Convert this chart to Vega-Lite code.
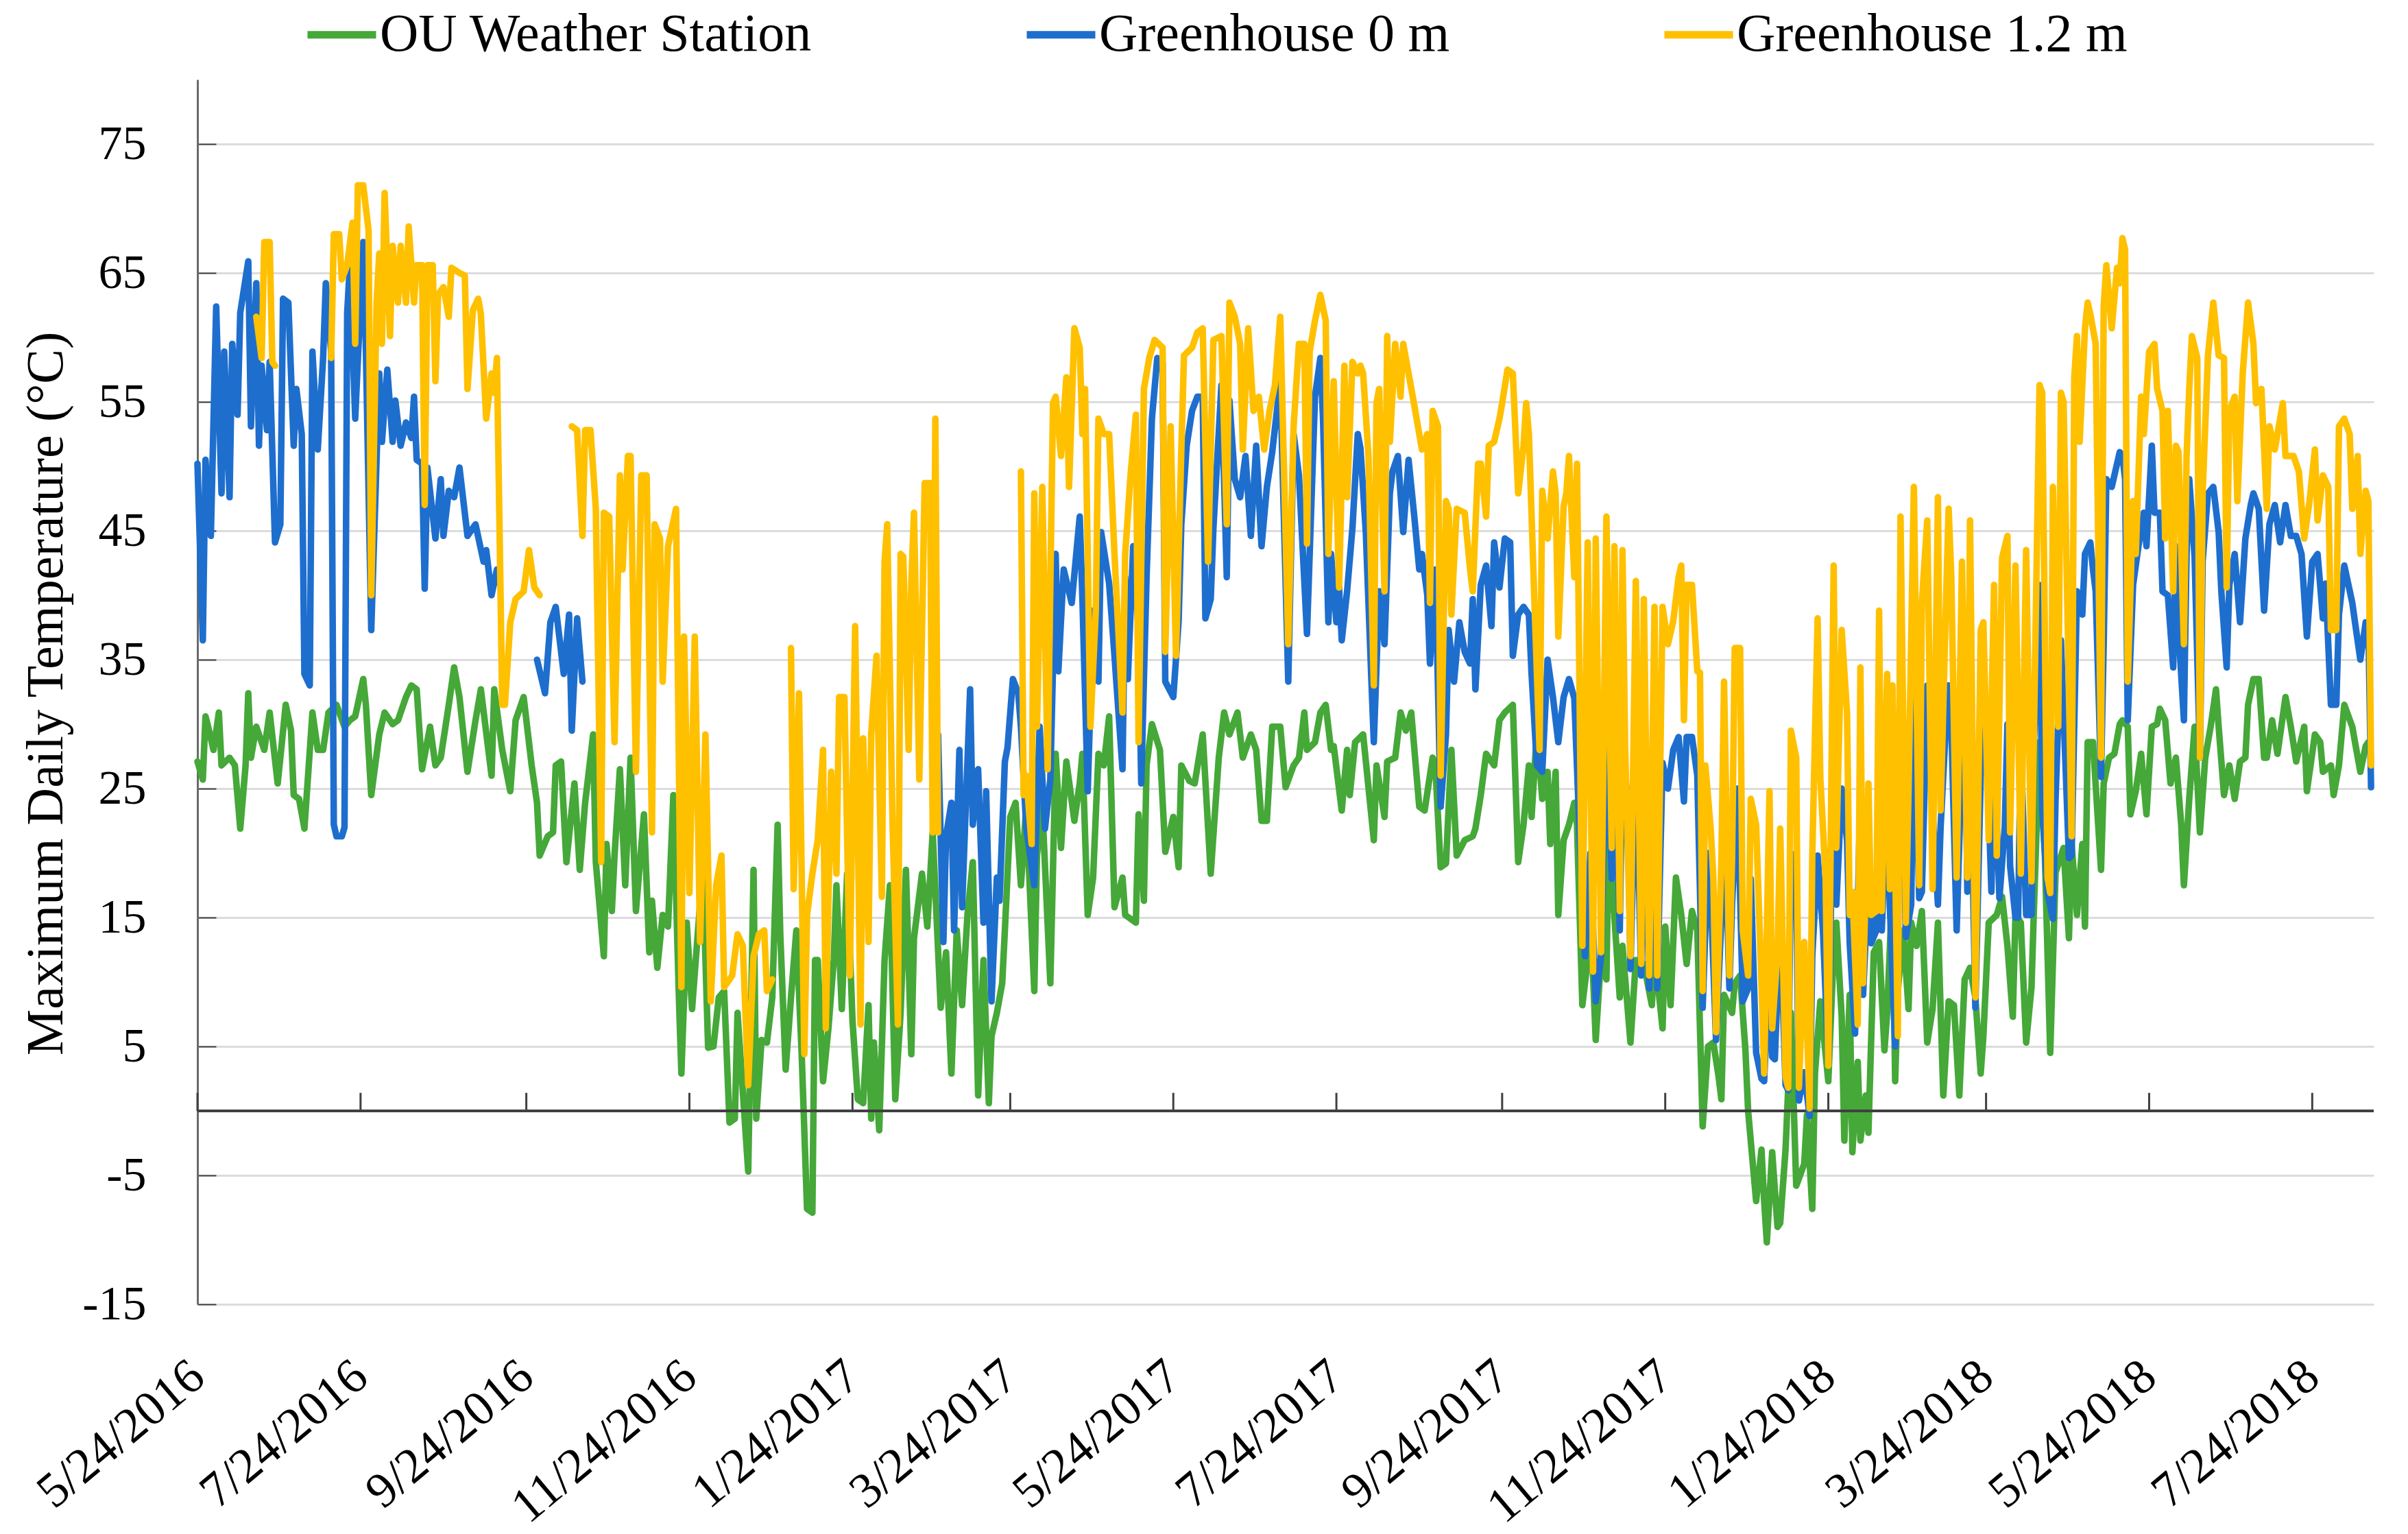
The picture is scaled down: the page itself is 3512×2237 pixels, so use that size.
{
  "$schema": "https://vega.github.io/schema/vega-lite/v6.json",
  "autosize": {"type": "none"},
  "padding": {"left": 288, "top": 116, "right": 50, "bottom": 335},
  "width": 3174,
  "height": 1786,
  "background": "white",
  "config": {
    "view": {"stroke": null},
    "font": "Liberation Serif",
    "axis": {"labelFont": "Liberation Serif", "titleFont": "Liberation Serif", "labelColor": "#000000", "titleColor": "#000000"},
    "legend": {"labelFont": "Liberation Serif", "labelColor": "#000000"}
  },
  "datasets": {
    "ou": [
      {"d":"2016-05-24","v":27.1},{"d":"2016-05-26","v":25.7},{"d":"2016-05-27","v":30.6},{"d":"2016-05-28","v":29.8},{"d":"2016-05-30","v":28.0},
      {"d":"2016-06-01","v":30.9},{"d":"2016-06-02","v":26.8},{"d":"2016-06-05","v":27.4},{"d":"2016-06-07","v":26.8},{"d":"2016-06-09","v":21.9},
      {"d":"2016-06-11","v":26.8},{"d":"2016-06-12","v":32.4},{"d":"2016-06-13","v":27.4},{"d":"2016-06-15","v":29.8},{"d":"2016-06-18","v":28.0},
      {"d":"2016-06-20","v":30.9},{"d":"2016-06-23","v":25.4},{"d":"2016-06-24","v":27.4},{"d":"2016-06-26","v":31.5},{"d":"2016-06-28","v":29.5},
      {"d":"2016-06-29","v":24.5},{"d":"2016-07-01","v":24.2},{"d":"2016-07-03","v":21.9},{"d":"2016-07-06","v":30.9},{"d":"2016-07-08","v":28.0},
      {"d":"2016-07-10","v":28.0},{"d":"2016-07-12","v":30.9},{"d":"2016-07-15","v":31.5},{"d":"2016-07-18","v":29.8},{"d":"2016-07-20","v":30.3},
      {"d":"2016-07-22","v":30.6},{"d":"2016-07-25","v":33.5},{"d":"2016-07-26","v":31.5},{"d":"2016-07-28","v":24.5},{"d":"2016-07-31","v":29.2},
      {"d":"2016-08-02","v":30.9},{"d":"2016-08-05","v":30.0},{"d":"2016-08-07","v":30.3},{"d":"2016-08-10","v":32.1},{"d":"2016-08-12","v":33.0},
      {"d":"2016-08-14","v":32.7},{"d":"2016-08-16","v":26.5},{"d":"2016-08-19","v":29.8},{"d":"2016-08-21","v":26.8},{"d":"2016-08-23","v":27.4},
      {"d":"2016-08-26","v":31.5},{"d":"2016-08-28","v":34.4},{"d":"2016-08-30","v":32.1},{"d":"2016-09-02","v":26.3},{"d":"2016-09-05","v":30.3},
      {"d":"2016-09-07","v":32.7},{"d":"2016-09-11","v":26.0},{"d":"2016-09-12","v":32.7},{"d":"2016-09-15","v":28.0},{"d":"2016-09-18","v":24.8},
      {"d":"2016-09-20","v":30.3},{"d":"2016-09-23","v":32.1},{"d":"2016-09-26","v":26.8},{"d":"2016-09-28","v":23.9},{"d":"2016-09-29","v":19.8},
      {"d":"2016-10-02","v":21.3},{"d":"2016-10-04","v":21.6},{"d":"2016-10-05","v":26.8},{"d":"2016-10-07","v":27.1},{"d":"2016-10-09","v":19.3},
      {"d":"2016-10-12","v":25.4},{"d":"2016-10-14","v":18.7},{"d":"2016-10-16","v":23.9},{"d":"2016-10-19","v":29.2},{"d":"2016-10-20","v":19.3},
      {"d":"2016-10-23","v":12.0},{"d":"2016-10-24","v":20.7},{"d":"2016-10-26","v":15.5},{"d":"2016-10-27","v":19.8},{"d":"2016-10-29","v":26.5},
      {"d":"2016-10-31","v":17.5},{"d":"2016-11-02","v":27.4},{"d":"2016-11-04","v":15.5},{"d":"2016-11-07","v":23.0},{"d":"2016-11-09","v":12.3},
      {"d":"2016-11-10","v":16.3},{"d":"2016-11-12","v":11.1},{"d":"2016-11-14","v":15.2},{"d":"2016-11-16","v":14.3},{"d":"2016-11-18","v":24.5},
      {"d":"2016-11-20","v":9.3},{"d":"2016-11-21","v":2.9},{"d":"2016-11-23","v":14.6},{"d":"2016-11-25","v":7.9},{"d":"2016-11-27","v":13.4},
      {"d":"2016-11-29","v":18.7},{"d":"2016-12-01","v":4.9},{"d":"2016-12-03","v":5.0},{"d":"2016-12-05","v":8.8},{"d":"2016-12-07","v":9.3},
      {"d":"2016-12-09","v":-0.9},{"d":"2016-12-11","v":-0.6},{"d":"2016-12-12","v":7.6},{"d":"2016-12-16","v":-4.7},{"d":"2016-12-18","v":18.7},
      {"d":"2016-12-19","v":-0.6},{"d":"2016-12-21","v":5.5},{"d":"2016-12-23","v":5.3},{"d":"2016-12-25","v":8.8},{"d":"2016-12-27","v":22.2},
      {"d":"2016-12-28","v":13.7},{"d":"2016-12-30","v":3.2},{"d":"2017-01-01","v":8.8},{"d":"2017-01-03","v":14.0},{"d":"2017-01-05","v":4.4},
      {"d":"2017-01-07","v":-7.6},{"d":"2017-01-09","v":-7.9},{"d":"2017-01-10","v":11.7},{"d":"2017-01-11","v":11.7},{"d":"2017-01-13","v":2.3},
      {"d":"2017-01-15","v":6.4},{"d":"2017-01-17","v":11.7},{"d":"2017-01-18","v":17.5},{"d":"2017-01-20","v":7.9},{"d":"2017-01-22","v":18.4},
      {"d":"2017-01-24","v":7.0},{"d":"2017-01-26","v":0.9},{"d":"2017-01-28","v":0.6},{"d":"2017-01-30","v":8.2},{"d":"2017-01-31","v":-0.6},
      {"d":"2017-02-01","v":5.3},{"d":"2017-02-03","v":-1.5},{"d":"2017-02-05","v":11.7},{"d":"2017-02-07","v":17.5},{"d":"2017-02-09","v":0.9},
      {"d":"2017-02-11","v":7.6},{"d":"2017-02-13","v":18.7},{"d":"2017-02-15","v":4.4},{"d":"2017-02-16","v":13.4},{"d":"2017-02-19","v":18.4},
      {"d":"2017-02-21","v":14.3},{"d":"2017-02-23","v":21.6},{"d":"2017-02-26","v":8.0},{"d":"2017-02-28","v":12.3},{"d":"2017-03-02","v":2.9},
      {"d":"2017-03-04","v":14.0},{"d":"2017-03-06","v":8.2},{"d":"2017-03-08","v":15.2},{"d":"2017-03-10","v":19.3},{"d":"2017-03-12","v":1.2},
      {"d":"2017-03-14","v":11.7},{"d":"2017-03-16","v":0.6},{"d":"2017-03-17","v":5.8},{"d":"2017-03-19","v":7.6},{"d":"2017-03-21","v":9.9},
      {"d":"2017-03-22","v":14.0},{"d":"2017-03-24","v":22.8},{"d":"2017-03-26","v":23.9},{"d":"2017-03-28","v":17.5},{"d":"2017-03-30","v":23.6},
      {"d":"2017-04-02","v":9.3},{"d":"2017-04-03","v":19.8},{"d":"2017-04-05","v":23.6},{"d":"2017-04-08","v":9.9},{"d":"2017-04-10","v":27.7},
      {"d":"2017-04-12","v":20.4},{"d":"2017-04-14","v":27.1},{"d":"2017-04-17","v":22.5},{"d":"2017-04-19","v":25.4},{"d":"2017-04-20","v":27.7},
      {"d":"2017-04-22","v":15.2},{"d":"2017-04-24","v":18.1},{"d":"2017-04-26","v":27.7},{"d":"2017-04-28","v":26.8},{"d":"2017-04-30","v":30.6},
      {"d":"2017-05-02","v":15.8},{"d":"2017-05-05","v":18.1},{"d":"2017-05-06","v":15.2},{"d":"2017-05-10","v":14.6},{"d":"2017-05-11","v":23.0},
      {"d":"2017-05-13","v":16.3},{"d":"2017-05-14","v":26.8},{"d":"2017-05-16","v":30.0},{"d":"2017-05-19","v":28.0},{"d":"2017-05-21","v":20.1},
      {"d":"2017-05-24","v":22.8},{"d":"2017-05-26","v":18.9},{"d":"2017-05-27","v":26.8},{"d":"2017-05-30","v":25.6},{"d":"2017-06-01","v":25.4},
      {"d":"2017-06-04","v":29.2},{"d":"2017-06-07","v":18.4},{"d":"2017-06-10","v":27.4},{"d":"2017-06-12","v":30.9},{"d":"2017-06-14","v":29.2},
      {"d":"2017-06-17","v":30.9},{"d":"2017-06-19","v":27.4},{"d":"2017-06-22","v":29.2},{"d":"2017-06-24","v":28.0},{"d":"2017-06-26","v":22.5},
      {"d":"2017-06-28","v":22.5},{"d":"2017-06-30","v":29.8},{"d":"2017-07-03","v":29.8},{"d":"2017-07-05","v":25.1},{"d":"2017-07-08","v":26.8},
      {"d":"2017-07-10","v":27.4},{"d":"2017-07-12","v":30.9},{"d":"2017-07-13","v":28.0},{"d":"2017-07-16","v":28.6},{"d":"2017-07-18","v":30.9},
      {"d":"2017-07-20","v":31.5},{"d":"2017-07-22","v":28.0},{"d":"2017-07-23","v":28.3},{"d":"2017-07-26","v":23.3},{"d":"2017-07-28","v":28.0},
      {"d":"2017-07-29","v":24.5},{"d":"2017-07-31","v":28.6},{"d":"2017-08-03","v":29.2},{"d":"2017-08-07","v":21.0},{"d":"2017-08-08","v":26.8},
      {"d":"2017-08-11","v":22.8},{"d":"2017-08-12","v":27.1},{"d":"2017-08-15","v":27.4},{"d":"2017-08-17","v":30.9},{"d":"2017-08-19","v":29.5},
      {"d":"2017-08-21","v":30.9},{"d":"2017-08-24","v":23.6},{"d":"2017-08-26","v":23.3},{"d":"2017-08-29","v":27.4},{"d":"2017-08-30","v":26.8},
      {"d":"2017-09-01","v":18.9},{"d":"2017-09-03","v":19.2},{"d":"2017-09-05","v":28.0},{"d":"2017-09-07","v":19.8},{"d":"2017-09-10","v":21.0},
      {"d":"2017-09-13","v":21.3},{"d":"2017-09-14","v":21.9},{"d":"2017-09-16","v":24.5},{"d":"2017-09-18","v":27.7},{"d":"2017-09-21","v":26.8},
      {"d":"2017-09-23","v":30.3},{"d":"2017-09-25","v":30.9},{"d":"2017-09-28","v":31.5},{"d":"2017-09-30","v":19.3},{"d":"2017-10-02","v":22.2},
      {"d":"2017-10-04","v":26.8},{"d":"2017-10-05","v":22.8},{"d":"2017-10-07","v":29.5},{"d":"2017-10-09","v":24.2},{"d":"2017-10-11","v":26.3},
      {"d":"2017-10-12","v":20.7},{"d":"2017-10-14","v":26.3},{"d":"2017-10-15","v":15.2},{"d":"2017-10-17","v":21.0},{"d":"2017-10-19","v":22.2},
      {"d":"2017-10-21","v":23.9},{"d":"2017-10-22","v":22.2},{"d":"2017-10-24","v":8.2},{"d":"2017-10-26","v":11.7},{"d":"2017-10-27","v":15.5},
      {"d":"2017-10-29","v":5.5},{"d":"2017-10-31","v":12.0},{"d":"2017-11-02","v":10.2},{"d":"2017-11-03","v":23.6},{"d":"2017-11-04","v":18.1},
      {"d":"2017-11-07","v":8.8},{"d":"2017-11-08","v":12.8},{"d":"2017-11-11","v":5.3},{"d":"2017-11-13","v":11.7},{"d":"2017-11-15","v":10.5},
      {"d":"2017-11-16","v":11.4},{"d":"2017-11-19","v":8.2},{"d":"2017-11-20","v":12.3},{"d":"2017-11-23","v":6.4},{"d":"2017-11-24","v":14.3},
      {"d":"2017-11-26","v":8.2},{"d":"2017-11-28","v":18.1},{"d":"2017-11-30","v":15.2},{"d":"2017-12-02","v":11.4},{"d":"2017-12-04","v":15.5},
      {"d":"2017-12-06","v":14.0},{"d":"2017-12-08","v":-1.2},{"d":"2017-12-10","v":5.0},{"d":"2017-12-12","v":5.3},{"d":"2017-12-14","v":2.6},
      {"d":"2017-12-15","v":0.9},{"d":"2017-12-16","v":9.0},{"d":"2017-12-19","v":7.6},{"d":"2017-12-20","v":9.9},{"d":"2017-12-22","v":10.5},
      {"d":"2017-12-24","v":4.7},{"d":"2017-12-25","v":0.0},{"d":"2017-12-28","v":-7.0},{"d":"2017-12-30","v":-3.0},{"d":"2017-12-31","v":-7.0},
      {"d":"2018-01-01","v":-10.2},{"d":"2018-01-03","v":-3.2},{"d":"2018-01-05","v":-9.0},{"d":"2018-01-06","v":-8.7},{"d":"2018-01-08","v":-3.0},
      {"d":"2018-01-09","v":1.8},{"d":"2018-01-10","v":7.6},{"d":"2018-01-12","v":-5.8},{"d":"2018-01-15","v":-4.1},{"d":"2018-01-16","v":-0.3},
      {"d":"2018-01-18","v":-7.6},{"d":"2018-01-19","v":2.9},{"d":"2018-01-21","v":8.5},{"d":"2018-01-24","v":2.3},{"d":"2018-01-26","v":12.3},
      {"d":"2018-01-27","v":14.6},{"d":"2018-01-29","v":7.3},{"d":"2018-01-30","v":-2.3},{"d":"2018-02-01","v":9.0},{"d":"2018-02-02","v":-3.2},
      {"d":"2018-02-04","v":3.8},{"d":"2018-02-05","v":-2.3},{"d":"2018-02-07","v":1.2},{"d":"2018-02-08","v":-1.7},{"d":"2018-02-10","v":12.3},
      {"d":"2018-02-12","v":13.1},{"d":"2018-02-14","v":4.7},{"d":"2018-02-15","v":7.6},{"d":"2018-02-17","v":17.5},{"d":"2018-02-18","v":2.3},
      {"d":"2018-02-19","v":9.3},{"d":"2018-02-21","v":14.0},{"d":"2018-02-23","v":7.9},{"d":"2018-02-24","v":14.6},{"d":"2018-02-26","v":12.8},
      {"d":"2018-02-28","v":15.5},{"d":"2018-03-02","v":5.3},{"d":"2018-03-04","v":7.9},{"d":"2018-03-06","v":14.6},{"d":"2018-03-08","v":1.2},
      {"d":"2018-03-10","v":8.5},{"d":"2018-03-12","v":8.2},{"d":"2018-03-14","v":1.2},{"d":"2018-03-16","v":10.2},{"d":"2018-03-18","v":11.1},
      {"d":"2018-03-20","v":8.8},{"d":"2018-03-22","v":2.9},{"d":"2018-03-23","v":5.8},{"d":"2018-03-25","v":14.6},{"d":"2018-03-28","v":15.2},
      {"d":"2018-03-30","v":16.6},{"d":"2018-04-01","v":12.8},{"d":"2018-04-03","v":7.3},{"d":"2018-04-04","v":15.2},{"d":"2018-04-06","v":14.6},
      {"d":"2018-04-08","v":5.3},{"d":"2018-04-10","v":9.6},{"d":"2018-04-11","v":16.3},{"d":"2018-04-13","v":28.6},{"d":"2018-04-15","v":19.8},
      {"d":"2018-04-17","v":4.5},{"d":"2018-04-19","v":18.5},{"d":"2018-04-22","v":20.4},{"d":"2018-04-24","v":13.4},{"d":"2018-04-25","v":20.7},
      {"d":"2018-04-27","v":15.2},{"d":"2018-04-29","v":20.7},{"d":"2018-04-30","v":14.3},{"d":"2018-05-01","v":28.6},{"d":"2018-05-03","v":28.6},
      {"d":"2018-05-06","v":18.7},{"d":"2018-05-07","v":25.4},{"d":"2018-05-09","v":27.4},{"d":"2018-05-11","v":27.7},{"d":"2018-05-13","v":30.0},
      {"d":"2018-05-14","v":30.3},{"d":"2018-05-16","v":29.8},{"d":"2018-05-17","v":23.0},{"d":"2018-05-19","v":24.8},{"d":"2018-05-21","v":27.7},
      {"d":"2018-05-23","v":23.0},{"d":"2018-05-25","v":29.8},{"d":"2018-05-27","v":30.0},{"d":"2018-05-28","v":31.2},{"d":"2018-05-30","v":30.3},
      {"d":"2018-06-01","v":25.4},{"d":"2018-06-03","v":27.4},{"d":"2018-06-05","v":22.2},{"d":"2018-06-06","v":17.5},{"d":"2018-06-08","v":24.2},
      {"d":"2018-06-10","v":29.8},{"d":"2018-06-12","v":21.6},{"d":"2018-06-14","v":27.4},{"d":"2018-06-16","v":29.8},{"d":"2018-06-18","v":32.7},
      {"d":"2018-06-19","v":29.8},{"d":"2018-06-21","v":24.5},{"d":"2018-06-23","v":26.8},{"d":"2018-06-25","v":24.2},{"d":"2018-06-27","v":27.1},
      {"d":"2018-06-29","v":27.4},{"d":"2018-06-30","v":31.5},{"d":"2018-07-02","v":33.5},{"d":"2018-07-04","v":33.5},{"d":"2018-07-06","v":27.4},
      {"d":"2018-07-07","v":27.4},{"d":"2018-07-09","v":30.3},{"d":"2018-07-11","v":27.7},{"d":"2018-07-14","v":32.1},{"d":"2018-07-16","v":29.8},
      {"d":"2018-07-18","v":27.1},{"d":"2018-07-21","v":29.8},{"d":"2018-07-22","v":24.8},{"d":"2018-07-25","v":29.2},{"d":"2018-07-27","v":28.6},
      {"d":"2018-07-28","v":26.3},{"d":"2018-07-31","v":26.8},{"d":"2018-08-01","v":24.5},{"d":"2018-08-03","v":26.8},{"d":"2018-08-05","v":31.5},
      {"d":"2018-08-08","v":29.8},{"d":"2018-08-09","v":28.6},{"d":"2018-08-11","v":26.3},{"d":"2018-08-13","v":28.3},{"d":"2018-08-14","v":28.6}
    ],
    "g0": [
      {"d":"2016-05-24","v":50.2},{"d":"2016-05-26","v":36.5},{"d":"2016-05-27","v":50.5},{"d":"2016-05-29","v":44.6},{"d":"2016-05-31","v":62.4},
      {"d":"2016-06-02","v":47.9},{"d":"2016-06-03","v":58.9},{"d":"2016-06-05","v":47.6},{"d":"2016-06-06","v":59.5},{"d":"2016-06-08","v":54.0},
      {"d":"2016-06-09","v":61.9},{"d":"2016-06-12","v":65.9},{"d":"2016-06-13","v":53.1},{"d":"2016-06-15","v":64.2},{"d":"2016-06-16","v":51.6},
      {"d":"2016-06-17","v":57.8},{"d":"2016-06-19","v":52.8},{"d":"2016-06-20","v":58.1},{"d":"2016-06-22","v":44.1},{"d":"2016-06-24","v":45.5},
      {"d":"2016-06-25","v":63.0},{"d":"2016-06-27","v":62.7},{"d":"2016-06-29","v":51.6},{"d":"2016-06-30","v":56.0},{"d":"2016-07-02","v":52.5},
      {"d":"2016-07-03","v":33.9},{"d":"2016-07-05","v":33.0},{"d":"2016-07-06","v":58.9},{"d":"2016-07-08","v":51.3},{"d":"2016-07-10","v":58.4},
      {"d":"2016-07-11","v":64.2},{"d":"2016-07-13","v":58.9},{"d":"2016-07-14","v":22.2},{"d":"2016-07-15","v":21.3},{"d":"2016-07-16","v":21.3},
      {"d":"2016-07-17","v":21.3},{"d":"2016-07-18","v":22.0},{"d":"2016-07-19","v":61.9},{"d":"2016-07-20","v":65.6},{"d":"2016-07-22","v":53.7},
      {"d":"2016-07-25","v":67.4},{"d":"2016-07-26","v":58.9},{"d":"2016-07-28","v":37.3},{"d":"2016-07-31","v":57.2},{"d":"2016-08-01","v":51.9},
      {"d":"2016-08-03","v":57.5},{"d":"2016-08-05","v":51.9},{"d":"2016-08-06","v":55.1},{"d":"2016-08-08","v":51.6},{"d":"2016-08-10","v":53.4},
      {"d":"2016-08-12","v":52.2},{"d":"2016-08-13","v":55.4},{"d":"2016-08-14","v":50.5},{"d":"2016-08-16","v":50.2},{"d":"2016-08-17","v":40.5},
      {"d":"2016-08-18","v":49.9},{"d":"2016-08-21","v":44.4},{"d":"2016-08-23","v":49.0},{"d":"2016-08-24","v":44.6},{"d":"2016-08-26","v":48.1},
      {"d":"2016-08-28","v":47.6},{"d":"2016-08-30","v":49.9},{"d":"2016-09-02","v":44.6},{"d":"2016-09-05","v":45.5},{"d":"2016-09-08","v":42.6},
      {"d":"2016-09-09","v":43.5},{"d":"2016-09-11","v":40.0},{"d":"2016-09-13","v":42.0},{"d":"2016-09-14","v":40.9},{"d":"2016-09-21","v":null},
      {"d":"2016-09-28","v":35.0},{"d":"2016-10-01","v":32.4},{"d":"2016-10-03","v":37.9},{"d":"2016-10-05","v":39.1},{"d":"2016-10-08","v":33.9},
      {"d":"2016-10-10","v":38.5},{"d":"2016-10-11","v":29.5},{"d":"2016-10-13","v":38.2},{"d":"2016-10-15","v":33.3},{"d":"2016-12-10","v":null},
      {"d":"2017-02-25","v":29.2},{"d":"2017-02-27","v":13.1},{"d":"2017-02-28","v":21.3},{"d":"2017-03-02","v":23.9},{"d":"2017-03-03","v":14.0},
      {"d":"2017-03-05","v":28.0},{"d":"2017-03-06","v":15.8},{"d":"2017-03-09","v":32.7},{"d":"2017-03-10","v":22.2},{"d":"2017-03-12","v":26.5},
      {"d":"2017-03-14","v":14.6},{"d":"2017-03-15","v":24.8},{"d":"2017-03-17","v":8.5},{"d":"2017-03-19","v":18.1},{"d":"2017-03-20","v":16.3},
      {"d":"2017-03-22","v":27.1},{"d":"2017-03-23","v":28.2},{"d":"2017-03-25","v":33.5},{"d":"2017-03-27","v":32.4},{"d":"2017-03-28","v":29.8},
      {"d":"2017-03-30","v":22.0},{"d":"2017-04-02","v":17.5},{"d":"2017-04-04","v":29.8},{"d":"2017-04-06","v":21.9},{"d":"2017-04-08","v":25.7},
      {"d":"2017-04-10","v":43.2},{"d":"2017-04-11","v":34.1},{"d":"2017-04-13","v":42.0},{"d":"2017-04-16","v":39.4},{"d":"2017-04-19","v":46.1},
      {"d":"2017-04-20","v":39.7},{"d":"2017-04-22","v":24.8},{"d":"2017-04-24","v":38.8},{"d":"2017-04-26","v":33.3},{"d":"2017-04-27","v":44.9},
      {"d":"2017-04-30","v":40.9},{"d":"2017-05-02","v":35.3},{"d":"2017-05-05","v":26.5},{"d":"2017-05-06","v":41.4},{"d":"2017-05-07","v":33.5},
      {"d":"2017-05-09","v":43.8},{"d":"2017-05-11","v":37.3},{"d":"2017-05-12","v":25.4},{"d":"2017-05-14","v":41.4},{"d":"2017-05-16","v":53.7},
      {"d":"2017-05-18","v":58.4},{"d":"2017-05-20","v":58.0},{"d":"2017-05-21","v":33.3},{"d":"2017-05-24","v":32.1},{"d":"2017-05-26","v":38.0},
      {"d":"2017-05-27","v":45.5},{"d":"2017-05-29","v":51.6},{"d":"2017-05-31","v":54.3},{"d":"2017-06-02","v":55.4},{"d":"2017-06-04","v":55.4},
      {"d":"2017-06-05","v":38.2},{"d":"2017-06-07","v":39.7},{"d":"2017-06-08","v":45.2},{"d":"2017-06-11","v":56.3},{"d":"2017-06-13","v":41.4},
      {"d":"2017-06-14","v":55.1},{"d":"2017-06-16","v":49.0},{"d":"2017-06-18","v":47.6},{"d":"2017-06-20","v":50.8},{"d":"2017-06-22","v":44.6},
      {"d":"2017-06-24","v":51.6},{"d":"2017-06-26","v":43.8},{"d":"2017-06-28","v":48.4},{"d":"2017-06-30","v":51.1},{"d":"2017-07-03","v":56.6},
      {"d":"2017-07-06","v":33.3},{"d":"2017-07-08","v":52.5},{"d":"2017-07-10","v":49.3},{"d":"2017-07-13","v":37.0},{"d":"2017-07-16","v":55.4},
      {"d":"2017-07-18","v":58.4},{"d":"2017-07-19","v":53.7},{"d":"2017-07-21","v":37.9},{"d":"2017-07-22","v":43.2},{"d":"2017-07-24","v":37.9},
      {"d":"2017-07-25","v":40.6},{"d":"2017-07-26","v":36.5},{"d":"2017-07-28","v":40.3},{"d":"2017-07-30","v":45.2},{"d":"2017-08-01","v":52.5},
      {"d":"2017-08-02","v":51.4},{"d":"2017-08-04","v":44.9},{"d":"2017-08-06","v":33.9},{"d":"2017-08-07","v":28.6},{"d":"2017-08-09","v":40.3},
      {"d":"2017-08-11","v":36.2},{"d":"2017-08-13","v":47.9},{"d":"2017-08-14","v":49.6},{"d":"2017-08-16","v":50.8},{"d":"2017-08-18","v":44.9},
      {"d":"2017-08-20","v":50.5},{"d":"2017-08-22","v":46.4},{"d":"2017-08-24","v":42.0},{"d":"2017-08-25","v":43.2},{"d":"2017-08-27","v":40.0},
      {"d":"2017-08-28","v":34.7},{"d":"2017-08-30","v":42.0},{"d":"2017-09-01","v":23.6},{"d":"2017-09-03","v":29.2},{"d":"2017-09-04","v":37.3},
      {"d":"2017-09-06","v":33.3},{"d":"2017-09-08","v":37.9},{"d":"2017-09-10","v":35.6},{"d":"2017-09-12","v":34.7},{"d":"2017-09-13","v":39.7},
      {"d":"2017-09-14","v":32.7},{"d":"2017-09-16","v":40.8},{"d":"2017-09-18","v":42.3},{"d":"2017-09-20","v":37.6},{"d":"2017-09-21","v":44.1},
      {"d":"2017-09-23","v":40.6},{"d":"2017-09-25","v":44.4},{"d":"2017-09-27","v":44.1},{"d":"2017-09-28","v":35.3},{"d":"2017-09-30","v":38.5},
      {"d":"2017-10-02","v":39.1},{"d":"2017-10-04","v":38.5},{"d":"2017-10-05","v":33.9},{"d":"2017-10-07","v":26.8},{"d":"2017-10-09","v":26.3},
      {"d":"2017-10-11","v":35.0},{"d":"2017-10-13","v":32.1},{"d":"2017-10-15","v":28.6},{"d":"2017-10-17","v":32.1},{"d":"2017-10-19","v":33.5},
      {"d":"2017-10-21","v":32.0},{"d":"2017-10-23","v":21.3},{"d":"2017-10-25","v":12.0},{"d":"2017-10-27","v":20.0},{"d":"2017-10-29","v":8.5},
      {"d":"2017-10-31","v":12.0},{"d":"2017-11-02","v":30.0},{"d":"2017-11-04","v":18.0},{"d":"2017-11-05","v":30.0},{"d":"2017-11-07","v":14.0},
      {"d":"2017-11-08","v":28.0},{"d":"2017-11-10","v":24.0},{"d":"2017-11-11","v":11.0},{"d":"2017-11-13","v":28.0},{"d":"2017-11-15","v":10.5},
      {"d":"2017-11-16","v":27.0},{"d":"2017-11-18","v":9.5},{"d":"2017-11-20","v":26.0},{"d":"2017-11-21","v":9.5},{"d":"2017-11-23","v":27.0},
      {"d":"2017-11-25","v":25.0},{"d":"2017-11-27","v":28.0},{"d":"2017-11-29","v":29.0},{"d":"2017-12-01","v":24.0},{"d":"2017-12-02","v":29.0},
      {"d":"2017-12-04","v":29.0},{"d":"2017-12-06","v":26.0},{"d":"2017-12-08","v":8.0},{"d":"2017-12-10","v":20.0},{"d":"2017-12-11","v":17.0},
      {"d":"2017-12-13","v":5.5},{"d":"2017-12-15","v":15.0},{"d":"2017-12-16","v":24.0},{"d":"2017-12-18","v":9.5},{"d":"2017-12-19","v":16.0},
      {"d":"2017-12-21","v":25.0},{"d":"2017-12-23","v":8.5},{"d":"2017-12-25","v":9.5},{"d":"2017-12-26","v":18.0},{"d":"2017-12-28","v":4.5},
      {"d":"2017-12-30","v":2.5},{"d":"2017-12-31","v":2.3},{"d":"2018-01-02","v":12.0},{"d":"2018-01-03","v":4.2},{"d":"2018-01-04","v":4.0},
      {"d":"2018-01-06","v":15.0},{"d":"2018-01-08","v":2.0},{"d":"2018-01-09","v":1.6},{"d":"2018-01-10","v":20.0},{"d":"2018-01-12","v":18.0},
      {"d":"2018-01-13","v":0.8},{"d":"2018-01-15","v":3.0},{"d":"2018-01-17","v":-0.4},{"d":"2018-01-18","v":12.0},{"d":"2018-01-20","v":19.8},
      {"d":"2018-01-22","v":14.0},{"d":"2018-01-24","v":3.8},{"d":"2018-01-26","v":28.0},{"d":"2018-01-27","v":16.0},{"d":"2018-01-29","v":25.0},
      {"d":"2018-01-31","v":21.0},{"d":"2018-02-01","v":13.0},{"d":"2018-02-03","v":6.0},{"d":"2018-02-05","v":25.0},{"d":"2018-02-06","v":9.0},
      {"d":"2018-02-08","v":18.0},{"d":"2018-02-09","v":13.0},{"d":"2018-02-11","v":14.0},{"d":"2018-02-12","v":28.0},{"d":"2018-02-13","v":14.0},
      {"d":"2018-02-15","v":25.0},{"d":"2018-02-16","v":16.0},{"d":"2018-02-18","v":5.0},{"d":"2018-02-20","v":32.0},{"d":"2018-02-22","v":13.5},
      {"d":"2018-02-24","v":16.0},{"d":"2018-02-25","v":33.0},{"d":"2018-02-27","v":16.5},{"d":"2018-02-28","v":17.0},{"d":"2018-03-02","v":33.0},
      {"d":"2018-03-04","v":23.3},{"d":"2018-03-06","v":16.0},{"d":"2018-03-07","v":22.0},{"d":"2018-03-09","v":30.0},{"d":"2018-03-10","v":33.0},
      {"d":"2018-03-11","v":30.0},{"d":"2018-03-13","v":14.0},{"d":"2018-03-15","v":28.0},{"d":"2018-03-16","v":34.0},{"d":"2018-03-17","v":17.0},
      {"d":"2018-03-18","v":30.0},{"d":"2018-03-20","v":8.0},{"d":"2018-03-22","v":26.0},{"d":"2018-03-24","v":30.0},{"d":"2018-03-26","v":17.0},
      {"d":"2018-03-27","v":28.0},{"d":"2018-03-29","v":16.5},{"d":"2018-03-31","v":22.0},{"d":"2018-04-01","v":30.0},{"d":"2018-04-02","v":19.0},
      {"d":"2018-04-04","v":15.0},{"d":"2018-04-05","v":15.0},{"d":"2018-04-06","v":28.6},{"d":"2018-04-08","v":15.2},{"d":"2018-04-10","v":15.2},
      {"d":"2018-04-11","v":29.0},{"d":"2018-04-13","v":40.8},{"d":"2018-04-14","v":23.3},{"d":"2018-04-16","v":16.9},{"d":"2018-04-18","v":14.9},
      {"d":"2018-04-19","v":24.2},{"d":"2018-04-21","v":36.5},{"d":"2018-04-24","v":19.6},{"d":"2018-04-25","v":19.8},{"d":"2018-04-27","v":40.3},
      {"d":"2018-04-29","v":38.5},{"d":"2018-04-30","v":43.2},{"d":"2018-05-02","v":44.1},{"d":"2018-05-03","v":42.0},{"d":"2018-05-04","v":40.3},
      {"d":"2018-05-06","v":25.9},{"d":"2018-05-07","v":36.2},{"d":"2018-05-08","v":49.0},{"d":"2018-05-10","v":48.4},{"d":"2018-05-12","v":50.2},
      {"d":"2018-05-13","v":51.1},{"d":"2018-05-14","v":50.8},{"d":"2018-05-15","v":49.0},{"d":"2018-05-16","v":30.3},{"d":"2018-05-18","v":40.8},
      {"d":"2018-05-20","v":43.8},{"d":"2018-05-22","v":46.4},{"d":"2018-05-23","v":43.8},{"d":"2018-05-25","v":51.6},{"d":"2018-05-26","v":46.4},
      {"d":"2018-05-28","v":46.4},{"d":"2018-05-29","v":40.3},{"d":"2018-05-31","v":40.0},{"d":"2018-06-02","v":34.4},{"d":"2018-06-03","v":43.8},
      {"d":"2018-06-04","v":37.3},{"d":"2018-06-06","v":30.3},{"d":"2018-06-07","v":43.2},{"d":"2018-06-08","v":49.0},{"d":"2018-06-10","v":43.0},
      {"d":"2018-06-12","v":27.4},{"d":"2018-06-13","v":42.6},{"d":"2018-06-15","v":47.9},{"d":"2018-06-17","v":48.4},{"d":"2018-06-19","v":44.9},
      {"d":"2018-06-20","v":40.3},{"d":"2018-06-22","v":34.4},{"d":"2018-06-23","v":40.8},{"d":"2018-06-25","v":43.2},{"d":"2018-06-27","v":37.9},
      {"d":"2018-06-29","v":44.4},{"d":"2018-07-01","v":47.0},{"d":"2018-07-02","v":47.9},{"d":"2018-07-04","v":46.7},{"d":"2018-07-06","v":38.8},
      {"d":"2018-07-08","v":45.5},{"d":"2018-07-10","v":47.0},{"d":"2018-07-12","v":44.1},{"d":"2018-07-14","v":47.0},{"d":"2018-07-16","v":44.6},
      {"d":"2018-07-18","v":44.6},{"d":"2018-07-20","v":43.2},{"d":"2018-07-22","v":36.8},{"d":"2018-07-24","v":42.6},{"d":"2018-07-26","v":43.2},
      {"d":"2018-07-28","v":38.2},{"d":"2018-07-29","v":40.9},{"d":"2018-07-31","v":31.5},{"d":"2018-08-02","v":31.5},{"d":"2018-08-03","v":38.5},
      {"d":"2018-08-05","v":42.3},{"d":"2018-08-08","v":39.4},{"d":"2018-08-09","v":37.9},{"d":"2018-08-11","v":35.0},{"d":"2018-08-13","v":37.9},
      {"d":"2018-08-14","v":37.9},{"d":"2018-08-15","v":25.1}
    ],
    "g12": [
      {"d":"2016-06-15","v":61.6},{"d":"2016-06-17","v":58.4},{"d":"2016-06-18","v":67.4},{"d":"2016-06-20","v":67.4},{"d":"2016-06-21","v":58.1},
      {"d":"2016-06-22","v":57.8},{"d":"2016-07-03","v":null},{"d":"2016-07-13","v":58.4},{"d":"2016-07-14","v":68.0},{"d":"2016-07-16","v":68.0},
      {"d":"2016-07-17","v":64.5},{"d":"2016-07-19","v":65.6},{"d":"2016-07-21","v":68.9},{"d":"2016-07-22","v":59.5},{"d":"2016-07-23","v":71.8},
      {"d":"2016-07-25","v":71.8},{"d":"2016-07-27","v":68.3},{"d":"2016-07-28","v":40.0},{"d":"2016-07-30","v":62.7},{"d":"2016-07-31","v":66.5},
      {"d":"2016-08-01","v":59.5},{"d":"2016-08-02","v":71.2},{"d":"2016-08-04","v":60.1},{"d":"2016-08-05","v":67.1},{"d":"2016-08-07","v":62.7},
      {"d":"2016-08-08","v":67.1},{"d":"2016-08-10","v":62.7},{"d":"2016-08-11","v":68.6},{"d":"2016-08-13","v":62.7},{"d":"2016-08-14","v":65.6},
      {"d":"2016-08-16","v":65.6},{"d":"2016-08-17","v":47.0},{"d":"2016-08-18","v":65.6},{"d":"2016-08-20","v":65.6},{"d":"2016-08-21","v":56.6},
      {"d":"2016-08-22","v":63.3},{"d":"2016-08-24","v":63.9},{"d":"2016-08-26","v":61.6},{"d":"2016-08-27","v":65.4},{"d":"2016-08-30","v":65.0},
      {"d":"2016-09-01","v":64.8},{"d":"2016-09-02","v":56.0},{"d":"2016-09-04","v":62.1},{"d":"2016-09-06","v":63.0},{"d":"2016-09-07","v":61.8},
      {"d":"2016-09-09","v":53.7},{"d":"2016-09-11","v":57.2},{"d":"2016-09-12","v":55.7},{"d":"2016-09-13","v":58.4},{"d":"2016-09-15","v":31.5},
      {"d":"2016-09-16","v":31.5},{"d":"2016-09-18","v":37.9},{"d":"2016-09-20","v":39.7},{"d":"2016-09-23","v":40.3},{"d":"2016-09-25","v":43.5},
      {"d":"2016-09-27","v":40.6},{"d":"2016-09-29","v":40.0},{"d":"2016-10-05","v":null},{"d":"2016-10-11","v":53.1},{"d":"2016-10-13","v":52.8},
      {"d":"2016-10-15","v":44.6},{"d":"2016-10-16","v":52.8},{"d":"2016-10-18","v":52.8},{"d":"2016-10-20","v":46.7},{"d":"2016-10-22","v":19.3},
      {"d":"2016-10-23","v":46.4},{"d":"2016-10-25","v":46.1},{"d":"2016-10-27","v":28.6},{"d":"2016-10-29","v":49.3},{"d":"2016-10-30","v":42.0},
      {"d":"2016-11-01","v":50.8},{"d":"2016-11-02","v":50.8},{"d":"2016-11-04","v":26.3},{"d":"2016-11-06","v":49.3},{"d":"2016-11-08","v":49.3},
      {"d":"2016-11-10","v":21.6},{"d":"2016-11-11","v":45.5},{"d":"2016-11-13","v":44.4},{"d":"2016-11-14","v":33.3},{"d":"2016-11-16","v":43.8},
      {"d":"2016-11-19","v":46.7},{"d":"2016-11-21","v":9.6},{"d":"2016-11-22","v":36.8},{"d":"2016-11-24","v":16.9},{"d":"2016-11-26","v":36.8},
      {"d":"2016-11-28","v":13.1},{"d":"2016-11-30","v":29.2},{"d":"2016-12-02","v":8.5},{"d":"2016-12-04","v":17.5},{"d":"2016-12-06","v":19.8},
      {"d":"2016-12-07","v":9.6},{"d":"2016-12-10","v":10.5},{"d":"2016-12-12","v":13.7},{"d":"2016-12-14","v":12.8},{"d":"2016-12-16","v":2.0},
      {"d":"2016-12-18","v":12.0},{"d":"2016-12-20","v":13.7},{"d":"2016-12-22","v":14.0},{"d":"2016-12-23","v":9.3},{"d":"2016-12-25","v":10.2},
      {"d":"2016-12-28","v":null},{"d":"2017-01-01","v":35.9},{"d":"2017-01-02","v":17.2},{"d":"2017-01-04","v":32.4},{"d":"2017-01-06","v":4.4},
      {"d":"2017-01-07","v":15.2},{"d":"2017-01-09","v":18.4},{"d":"2017-01-11","v":21.0},{"d":"2017-01-13","v":28.0},{"d":"2017-01-14","v":6.4},
      {"d":"2017-01-16","v":26.3},{"d":"2017-01-18","v":18.4},{"d":"2017-01-19","v":32.1},{"d":"2017-01-21","v":32.1},{"d":"2017-01-23","v":10.5},
      {"d":"2017-01-25","v":37.6},{"d":"2017-01-27","v":6.7},{"d":"2017-01-28","v":28.9},{"d":"2017-01-30","v":13.1},{"d":"2017-01-31","v":29.2},
      {"d":"2017-02-02","v":35.3},{"d":"2017-02-04","v":16.6},{"d":"2017-02-05","v":42.6},{"d":"2017-02-06","v":45.5},{"d":"2017-02-08","v":22.2},
      {"d":"2017-02-10","v":6.7},{"d":"2017-02-11","v":43.2},{"d":"2017-02-12","v":43.0},{"d":"2017-02-14","v":28.0},{"d":"2017-02-15","v":40.9},
      {"d":"2017-02-16","v":46.4},{"d":"2017-02-18","v":25.7},{"d":"2017-02-20","v":48.7},{"d":"2017-02-22","v":48.7},{"d":"2017-02-23","v":21.6},
      {"d":"2017-02-24","v":53.7},{"d":"2017-02-25","v":21.6},{"d":"2017-03-10","v":null},{"d":"2017-03-28","v":49.6},{"d":"2017-03-29","v":24.5},
      {"d":"2017-03-30","v":26.0},{"d":"2017-04-01","v":20.7},{"d":"2017-04-02","v":47.9},{"d":"2017-04-03","v":29.8},{"d":"2017-04-05","v":48.4},
      {"d":"2017-04-07","v":26.5},{"d":"2017-04-09","v":54.9},{"d":"2017-04-10","v":55.4},{"d":"2017-04-12","v":50.8},{"d":"2017-04-14","v":56.9},
      {"d":"2017-04-15","v":48.4},{"d":"2017-04-17","v":60.7},{"d":"2017-04-19","v":59.2},{"d":"2017-04-20","v":52.5},{"d":"2017-04-21","v":56.0},
      {"d":"2017-04-23","v":29.8},{"d":"2017-04-25","v":38.8},{"d":"2017-04-26","v":53.7},{"d":"2017-04-28","v":52.5},{"d":"2017-04-30","v":52.5},
      {"d":"2017-05-02","v":43.2},{"d":"2017-05-05","v":30.9},{"d":"2017-05-06","v":43.2},{"d":"2017-05-08","v":49.3},{"d":"2017-05-10","v":54.0},
      {"d":"2017-05-11","v":28.6},{"d":"2017-05-13","v":56.0},{"d":"2017-05-15","v":58.4},{"d":"2017-05-17","v":59.8},{"d":"2017-05-20","v":59.2},
      {"d":"2017-05-21","v":35.6},{"d":"2017-05-23","v":53.1},{"d":"2017-05-25","v":35.3},{"d":"2017-05-27","v":51.3},{"d":"2017-05-28","v":58.6},
      {"d":"2017-05-31","v":59.2},{"d":"2017-06-02","v":60.4},{"d":"2017-06-04","v":60.7},{"d":"2017-06-06","v":42.6},{"d":"2017-06-08","v":59.8},
      {"d":"2017-06-11","v":60.1},{"d":"2017-06-13","v":45.5},{"d":"2017-06-14","v":62.7},{"d":"2017-06-16","v":61.6},{"d":"2017-06-18","v":59.5},
      {"d":"2017-06-19","v":51.3},{"d":"2017-06-21","v":60.7},{"d":"2017-06-23","v":54.3},{"d":"2017-06-25","v":55.4},{"d":"2017-06-27","v":51.3},
      {"d":"2017-06-29","v":54.3},{"d":"2017-07-01","v":56.3},{"d":"2017-07-03","v":61.6},{"d":"2017-07-06","v":36.2},{"d":"2017-07-08","v":53.1},
      {"d":"2017-07-10","v":59.5},{"d":"2017-07-12","v":59.5},{"d":"2017-07-13","v":44.0},{"d":"2017-07-14","v":58.9},{"d":"2017-07-16","v":61.3},
      {"d":"2017-07-18","v":63.3},{"d":"2017-07-20","v":61.3},{"d":"2017-07-21","v":43.2},{"d":"2017-07-23","v":56.6},{"d":"2017-07-25","v":40.6},
      {"d":"2017-07-27","v":57.8},{"d":"2017-07-28","v":47.6},{"d":"2017-07-30","v":58.1},{"d":"2017-08-01","v":57.2},{"d":"2017-08-02","v":57.8},
      {"d":"2017-08-03","v":57.2},{"d":"2017-08-05","v":50.8},{"d":"2017-08-07","v":33.0},{"d":"2017-08-08","v":54.9},{"d":"2017-08-09","v":56.0},
      {"d":"2017-08-11","v":40.3},{"d":"2017-08-12","v":60.1},{"d":"2017-08-13","v":51.9},{"d":"2017-08-15","v":59.5},{"d":"2017-08-17","v":55.4},
      {"d":"2017-08-18","v":59.5},{"d":"2017-08-20","v":57.2},{"d":"2017-08-22","v":54.9},{"d":"2017-08-24","v":52.5},{"d":"2017-08-25","v":51.3},
      {"d":"2017-08-27","v":52.5},{"d":"2017-08-28","v":39.4},{"d":"2017-08-29","v":54.3},{"d":"2017-08-31","v":53.1},{"d":"2017-09-01","v":26.0},
      {"d":"2017-09-03","v":47.3},{"d":"2017-09-04","v":46.7},{"d":"2017-09-05","v":38.5},{"d":"2017-09-07","v":46.7},{"d":"2017-09-10","v":46.4},
      {"d":"2017-09-12","v":42.0},{"d":"2017-09-13","v":40.3},{"d":"2017-09-15","v":50.2},{"d":"2017-09-16","v":50.2},{"d":"2017-09-18","v":46.1},
      {"d":"2017-09-19","v":51.6},{"d":"2017-09-21","v":51.9},{"d":"2017-09-23","v":53.7},{"d":"2017-09-24","v":54.9},{"d":"2017-09-26","v":57.5},
      {"d":"2017-09-28","v":57.2},{"d":"2017-09-30","v":47.9},{"d":"2017-10-02","v":51.6},{"d":"2017-10-03","v":54.9},{"d":"2017-10-04","v":52.5},
      {"d":"2017-10-06","v":40.0},{"d":"2017-10-08","v":28.0},{"d":"2017-10-09","v":48.1},{"d":"2017-10-11","v":44.4},{"d":"2017-10-13","v":49.6},
      {"d":"2017-10-14","v":47.9},{"d":"2017-10-15","v":36.8},{"d":"2017-10-17","v":46.9},{"d":"2017-10-18","v":47.9},{"d":"2017-10-19","v":50.8},
      {"d":"2017-10-21","v":41.4},{"d":"2017-10-22","v":50.2},{"d":"2017-10-24","v":12.8},{"d":"2017-10-26","v":44.1},{"d":"2017-10-28","v":10.8},
      {"d":"2017-10-29","v":44.4},{"d":"2017-10-31","v":12.3},{"d":"2017-11-02","v":46.1},{"d":"2017-11-04","v":20.4},{"d":"2017-11-05","v":43.8},
      {"d":"2017-11-07","v":15.5},{"d":"2017-11-08","v":43.5},{"d":"2017-11-09","v":28.3},{"d":"2017-11-11","v":12.0},{"d":"2017-11-13","v":41.1},
      {"d":"2017-11-15","v":11.4},{"d":"2017-11-16","v":39.7},{"d":"2017-11-18","v":10.5},{"d":"2017-11-20","v":39.1},{"d":"2017-11-21","v":10.5},
      {"d":"2017-11-23","v":39.1},{"d":"2017-11-25","v":36.2},{"d":"2017-11-27","v":38.0},{"d":"2017-11-29","v":41.4},{"d":"2017-11-30","v":42.3},
      {"d":"2017-12-01","v":30.3},{"d":"2017-12-02","v":40.8},{"d":"2017-12-04","v":40.8},{"d":"2017-12-06","v":34.1},{"d":"2017-12-07","v":34.0},
      {"d":"2017-12-08","v":9.3},{"d":"2017-12-09","v":26.8},{"d":"2017-12-11","v":21.9},{"d":"2017-12-12","v":18.1},{"d":"2017-12-13","v":6.1},
      {"d":"2017-12-15","v":19.3},{"d":"2017-12-16","v":33.3},{"d":"2017-12-18","v":10.5},{"d":"2017-12-19","v":19.6},{"d":"2017-12-20","v":35.9},
      {"d":"2017-12-22","v":35.9},{"d":"2017-12-23","v":14.0},{"d":"2017-12-25","v":10.5},{"d":"2017-12-26","v":24.2},{"d":"2017-12-28","v":22.2},
      {"d":"2017-12-30","v":9.9},{"d":"2017-12-31","v":2.9},{"d":"2018-01-02","v":24.8},{"d":"2018-01-03","v":6.4},{"d":"2018-01-05","v":12.3},
      {"d":"2018-01-06","v":21.9},{"d":"2018-01-08","v":2.6},{"d":"2018-01-09","v":1.8},{"d":"2018-01-10","v":29.5},{"d":"2018-01-12","v":27.4},
      {"d":"2018-01-13","v":1.8},{"d":"2018-01-15","v":13.1},{"d":"2018-01-17","v":0.2},{"d":"2018-01-18","v":19.8},{"d":"2018-01-20","v":38.2},
      {"d":"2018-01-21","v":25.9},{"d":"2018-01-23","v":18.0},{"d":"2018-01-24","v":3.5},{"d":"2018-01-26","v":42.3},{"d":"2018-01-27","v":20.4},
      {"d":"2018-01-29","v":37.3},{"d":"2018-01-31","v":30.9},{"d":"2018-02-01","v":15.2},{"d":"2018-02-02","v":17.0},{"d":"2018-02-04","v":6.7},
      {"d":"2018-02-05","v":34.4},{"d":"2018-02-06","v":9.9},{"d":"2018-02-08","v":25.4},{"d":"2018-02-09","v":15.2},{"d":"2018-02-11","v":15.5},
      {"d":"2018-02-12","v":38.8},{"d":"2018-02-13","v":15.5},{"d":"2018-02-15","v":33.9},{"d":"2018-02-16","v":17.2},{"d":"2018-02-17","v":33.0},
      {"d":"2018-02-19","v":5.8},{"d":"2018-02-20","v":46.1},{"d":"2018-02-22","v":14.6},{"d":"2018-02-23","v":24.8},{"d":"2018-02-25","v":48.4},
      {"d":"2018-02-27","v":17.5},{"d":"2018-02-28","v":39.4},{"d":"2018-03-02","v":45.8},{"d":"2018-03-04","v":17.2},{"d":"2018-03-06","v":47.6},
      {"d":"2018-03-07","v":23.3},{"d":"2018-03-09","v":39.4},{"d":"2018-03-10","v":46.7},{"d":"2018-03-11","v":41.4},{"d":"2018-03-13","v":18.1},
      {"d":"2018-03-15","v":42.6},{"d":"2018-03-17","v":18.1},{"d":"2018-03-18","v":45.8},{"d":"2018-03-20","v":8.8},{"d":"2018-03-22","v":37.3},
      {"d":"2018-03-23","v":37.9},{"d":"2018-03-25","v":21.0},{"d":"2018-03-27","v":40.8},{"d":"2018-03-28","v":19.8},{"d":"2018-03-30","v":42.9},
      {"d":"2018-04-01","v":44.6},{"d":"2018-04-02","v":21.6},{"d":"2018-04-04","v":42.3},{"d":"2018-04-06","v":18.4},{"d":"2018-04-08","v":43.5},
      {"d":"2018-04-10","v":17.8},{"d":"2018-04-13","v":56.3},{"d":"2018-04-14","v":55.7},{"d":"2018-04-16","v":18.1},{"d":"2018-04-17","v":16.9},
      {"d":"2018-04-18","v":48.4},{"d":"2018-04-20","v":29.8},{"d":"2018-04-21","v":55.7},{"d":"2018-04-22","v":55.0},{"d":"2018-04-25","v":21.3},
      {"d":"2018-04-26","v":56.9},{"d":"2018-04-27","v":60.1},{"d":"2018-04-28","v":51.9},{"d":"2018-04-30","v":60.7},{"d":"2018-05-01","v":62.7},
      {"d":"2018-05-02","v":61.8},{"d":"2018-05-04","v":59.5},{"d":"2018-05-06","v":27.4},{"d":"2018-05-07","v":62.4},{"d":"2018-05-08","v":65.6},
      {"d":"2018-05-10","v":60.7},{"d":"2018-05-12","v":65.4},{"d":"2018-05-13","v":64.2},{"d":"2018-05-14","v":67.7},{"d":"2018-05-15","v":66.8},
      {"d":"2018-05-16","v":33.3},{"d":"2018-05-18","v":47.3},{"d":"2018-05-19","v":43.2},{"d":"2018-05-21","v":55.4},{"d":"2018-05-22","v":52.5},
      {"d":"2018-05-24","v":58.9},{"d":"2018-05-26","v":59.5},{"d":"2018-05-27","v":56.0},{"d":"2018-05-29","v":54.3},{"d":"2018-05-30","v":44.4},
      {"d":"2018-05-31","v":54.3},{"d":"2018-06-02","v":40.3},{"d":"2018-06-03","v":51.6},{"d":"2018-06-04","v":51.1},{"d":"2018-06-06","v":36.2},
      {"d":"2018-06-07","v":50.8},{"d":"2018-06-08","v":56.0},{"d":"2018-06-09","v":60.1},{"d":"2018-06-11","v":58.4},{"d":"2018-06-12","v":27.4},
      {"d":"2018-06-13","v":47.9},{"d":"2018-06-15","v":58.6},{"d":"2018-06-17","v":62.7},{"d":"2018-06-19","v":58.6},{"d":"2018-06-21","v":58.4},
      {"d":"2018-06-22","v":40.6},{"d":"2018-06-23","v":54.3},{"d":"2018-06-25","v":55.4},{"d":"2018-06-26","v":47.3},{"d":"2018-06-28","v":57.2},
      {"d":"2018-06-30","v":62.7},{"d":"2018-07-02","v":59.5},{"d":"2018-07-03","v":54.9},{"d":"2018-07-05","v":56.0},{"d":"2018-07-07","v":46.7},
      {"d":"2018-07-08","v":53.1},{"d":"2018-07-10","v":51.3},{"d":"2018-07-13","v":54.9},{"d":"2018-07-14","v":50.8},{"d":"2018-07-17","v":50.8},
      {"d":"2018-07-19","v":49.6},{"d":"2018-07-21","v":44.4},{"d":"2018-07-23","v":47.3},{"d":"2018-07-25","v":51.3},{"d":"2018-07-26","v":45.8},
      {"d":"2018-07-28","v":49.3},{"d":"2018-07-30","v":48.4},{"d":"2018-07-31","v":37.3},{"d":"2018-08-02","v":37.3},{"d":"2018-08-03","v":53.1},
      {"d":"2018-08-05","v":53.7},{"d":"2018-08-07","v":52.5},{"d":"2018-08-08","v":46.7},{"d":"2018-08-10","v":50.8},{"d":"2018-08-11","v":43.2},
      {"d":"2018-08-13","v":48.1},{"d":"2018-08-14","v":47.3},{"d":"2018-08-15","v":26.8}
    ],
    "ticks": [
      {"d":"2016-05-24"},{"d":"2016-07-24"},{"d":"2016-09-24"},{"d":"2016-11-24"},{"d":"2017-01-24"},{"d":"2017-03-24"},{"d":"2017-05-24"},
      {"d":"2017-07-24"},{"d":"2017-09-24"},{"d":"2017-11-24"},{"d":"2018-01-24"},{"d":"2018-03-24"},{"d":"2018-05-24"},{"d":"2018-07-24"}
    ]
  },
  "layer": [
    {
      "data": {"name": "ou"},
      "mark": {"type": "line", "strokeWidth": 9.5, "strokeJoin": "round", "strokeCap": "round", "invalid": "break-paths-show-domains"},
      "encoding": {
        "x": {
          "field": "d", "type": "temporal", "title": null,
          "scale": {"type": "utc", "domain": [{"year": 2016, "month": 5, "date": 24, "utc": true}, {"year": 2018, "month": 8, "date": 16, "utc": true}]},
          "axis": {
            "domain": false, "ticks": false, "grid": false,
            "values": [
              {"year": 2016, "month": 5, "date": 24, "utc": true}, {"year": 2016, "month": 7, "date": 24, "utc": true},
              {"year": 2016, "month": 9, "date": 24, "utc": true}, {"year": 2016, "month": 11, "date": 24, "utc": true},
              {"year": 2017, "month": 1, "date": 24, "utc": true}, {"year": 2017, "month": 3, "date": 24, "utc": true},
              {"year": 2017, "month": 5, "date": 24, "utc": true}, {"year": 2017, "month": 7, "date": 24, "utc": true},
              {"year": 2017, "month": 9, "date": 24, "utc": true}, {"year": 2017, "month": 11, "date": 24, "utc": true},
              {"year": 2018, "month": 1, "date": 24, "utc": true}, {"year": 2018, "month": 3, "date": 24, "utc": true},
              {"year": 2018, "month": 5, "date": 24, "utc": true}, {"year": 2018, "month": 7, "date": 24, "utc": true}
            ],
            "format": "%-m/%-d/%Y",
            "labelAngle": -40, "labelAlign": "right", "labelBaseline": "middle",
            "labelPadding": 95, "labelFontSize": 72, "labelLimit": 1000, "labelOverlap": false, "labelFlush": false, "labelBound": false
          }
        },
        "y": {
          "field": "v", "type": "quantitative", "title": "Maximum Daily Temperature (°C)",
          "scale": {"domain": [-15, 80], "nice": false, "zero": false},
          "axis": {
            "values": [-15, -5, 5, 15, 25, 35, 45, 55, 65, 75],
            "labelExpr": "'' + datum.value",
            "titleFontSize": 76, "titleFontWeight": "normal",
            "titleAngle": -90, "titleX": -221, "titleY": 895, "titleAlign": "center", "titleBaseline": "middle",
            "labelFontSize": 70, "labelPadding": 102,
            "tickSize": -27, "tickColor": "#404040", "tickWidth": 2,
            "domainColor": "#6b6b6b", "domainWidth": 3,
            "gridColor": "#DCDCDC", "gridWidth": 3
          }
        },
        "color": {
          "datum": "OU Weather Station", "type": "nominal",
          "scale": {"domain": ["OU Weather Station", "Greenhouse 0 m", "Greenhouse 1.2 m"], "range": ["#45A838", "#1E6ECE", "#FFC000"]},
          "legend": {
            "title": null, "orient": "none", "legendX": 155, "legendY": -121, "direction": "horizontal",
            "symbolType": "stroke", "symbolSize": 10000, "symbolStrokeWidth": 11,
            "labelFontSize": 78, "labelOffset": 0, "labelLimit": 2000, "columnPadding": 290, "padding": 0
          }
        }
      }
    },
    {
      "data": {"name": "ticks"},
      "mark": {"type": "rule", "color": "#404040", "strokeWidth": 3},
      "encoding": {
        "x": {"field": "d", "type": "temporal", "title": null},
        "y": {"datum": 0},
        "y2": {"datum": 1.4}
      }
    },
    {
      "data": {"values": [{}]},
      "mark": {"type": "rule", "color": "#404040", "strokeWidth": 4},
      "encoding": {"y": {"datum": 0}}
    },
    {
      "data": {"name": "g0"},
      "mark": {"type": "line", "strokeWidth": 9.5, "strokeJoin": "round", "strokeCap": "round", "invalid": "break-paths-show-domains"},
      "encoding": {
        "x": {"field": "d", "type": "temporal", "title": null},
        "y": {"field": "v", "type": "quantitative", "title": "Maximum Daily Temperature (°C)"},
        "color": {"datum": "Greenhouse 0 m", "type": "nominal"}
      }
    },
    {
      "data": {"name": "g12"},
      "mark": {"type": "line", "strokeWidth": 9.5, "strokeJoin": "round", "strokeCap": "round", "invalid": "break-paths-show-domains"},
      "encoding": {
        "x": {"field": "d", "type": "temporal", "title": null},
        "y": {"field": "v", "type": "quantitative", "title": "Maximum Daily Temperature (°C)"},
        "color": {"datum": "Greenhouse 1.2 m", "type": "nominal"}
      }
    }
  ]
}
